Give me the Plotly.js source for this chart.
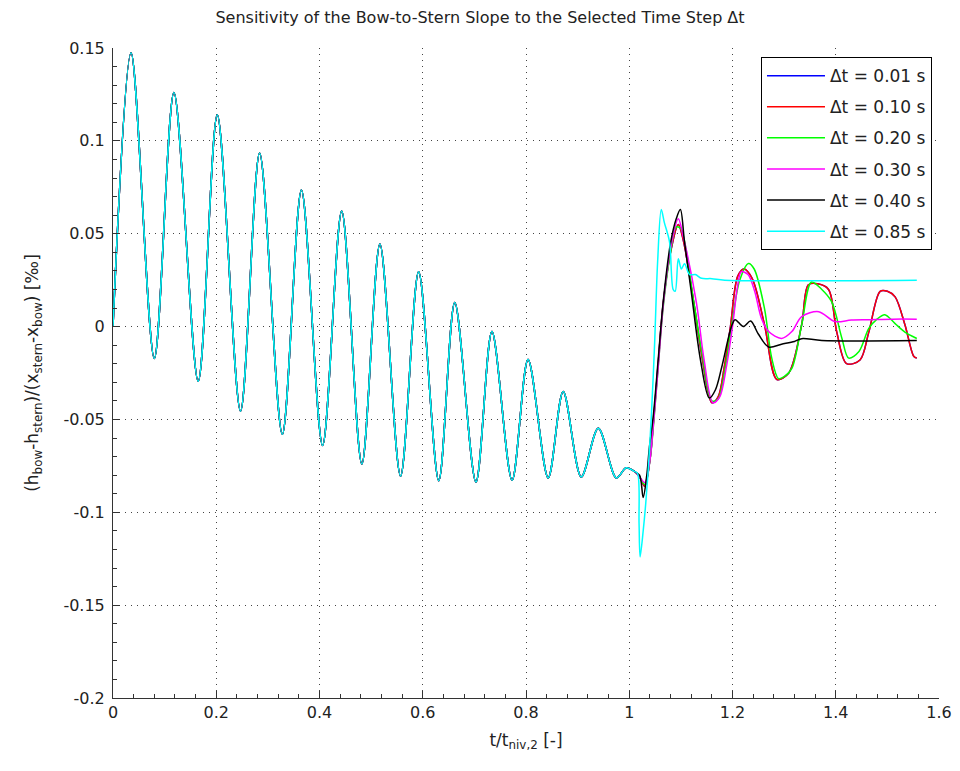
<!DOCTYPE html>
<html>
<head>
<meta charset="utf-8">
<script src="https://cdn.plot.ly/plotly-3.0.1.min.js"></script>
<style>html,body{margin:0;padding:0;background:#fff;}#chart{width:960px;height:771px;}</style>
</head>
<body>
<div id="chart"></div>
<script>
// Shared oscillation before the jump (all time steps coincide)
const tBase = [0, 0.035, 0.080, 0.118, 0.165, 0.202, 0.247, 0.284, 0.328, 0.365, 0.406, 0.443, 0.482, 0.517, 0.557, 0.592, 0.631, 0.662, 0.703, 0.734, 0.773, 0.804, 0.843, 0.872, 0.907, 0.940, 0.975, 0.994, 1.010];
const yBase = [0, 0.1475, -0.0172, 0.126, -0.0295, 0.114, -0.0456, 0.0935, -0.058, 0.0735, -0.064, 0.0622, -0.074, 0.0445, -0.0805, 0.0295, -0.083, 0.013, -0.0837, -0.0027, -0.0827, -0.0177, -0.0815, -0.0349, -0.081, -0.0547, -0.0815, -0.076, -0.078];

// Series-specific parts after t/t_niv,2 = 1
const t001 = [1.020, 1.030, 1.040, 1.047, 1.056, 1.066, 1.080, 1.095, 1.105, 1.125, 1.142, 1.160, 1.172, 1.184, 1.196, 1.210, 1.222, 1.238, 1.262, 1.286, 1.309, 1.334, 1.347, 1.365, 1.386, 1.402, 1.421, 1.447, 1.464, 1.486, 1.500, 1.515, 1.534, 1.551, 1.557];
const y001 = [-0.081, -0.086, -0.072, -0.051, -0.020, 0.013, 0.040, 0.055, 0.046, 0.013, -0.018, -0.041, -0.038, -0.022, 0.0, 0.027, 0.031, 0.026, 0.001, -0.0285, -0.025, 0.001, 0.0225, 0.023, 0.020, -0.003, -0.020, -0.018, -0.003, 0.019, 0.019, 0.016, 0.001, -0.016, -0.017];

const t010 = [1.020, 1.030, 1.040, 1.047, 1.056, 1.066, 1.080, 1.095, 1.105, 1.125, 1.142, 1.160, 1.172, 1.184, 1.196, 1.210, 1.222, 1.238, 1.262, 1.286, 1.309, 1.334, 1.347, 1.365, 1.386, 1.402, 1.421, 1.447, 1.464, 1.486, 1.500, 1.515, 1.534, 1.551, 1.557];
const y010 = [-0.081, -0.086, -0.072, -0.051, -0.020, 0.013, 0.040, 0.055, 0.046, 0.013, -0.018, -0.041, -0.038, -0.022, 0.0, 0.027, 0.031, 0.026, 0.001, -0.0285, -0.025, 0.001, 0.0225, 0.023, 0.020, -0.003, -0.020, -0.018, -0.003, 0.019, 0.019, 0.016, 0.001, -0.016, -0.017];

const t020 = [1.020, 1.030, 1.040, 1.047, 1.056, 1.066, 1.080, 1.091, 1.100, 1.125, 1.142, 1.160, 1.172, 1.186, 1.198, 1.214, 1.231, 1.242, 1.262, 1.276, 1.289, 1.300, 1.315, 1.334, 1.353, 1.373, 1.392, 1.412, 1.425, 1.445, 1.464, 1.480, 1.495, 1.515, 1.534, 1.557];
const y020 = [-0.081, -0.085, -0.072, -0.053, -0.022, 0.011, 0.040, 0.0536, 0.0526, 0.013, -0.016, -0.040, -0.039, -0.022, 0.0, 0.025, 0.034, 0.031, 0.0097, -0.017, -0.028, -0.027, -0.0225, 0.001, 0.024, 0.020, 0.0134, -0.0064, -0.017, -0.0134, -0.001, 0.004, 0.0064, 0.0016, -0.003, -0.0064];

const t030 = [1.020, 1.030, 1.040, 1.047, 1.056, 1.066, 1.080, 1.095, 1.105, 1.130, 1.145, 1.162, 1.175, 1.188, 1.200, 1.210, 1.217, 1.230, 1.243, 1.256, 1.270, 1.295, 1.315, 1.334, 1.367, 1.398, 1.430, 1.464, 1.510, 1.557];
const y030 = [-0.081, -0.084, -0.072, -0.052, -0.022, 0.012, 0.042, 0.058, 0.048, 0.013, -0.018, -0.041, -0.038, -0.022, 0.0, 0.022, 0.0295, 0.028, 0.019, 0.0045, -0.0027, -0.0064, -0.0027, 0.0054, 0.008, 0.0027, 0.0035, 0.0037, 0.004, 0.004];

const t040 = [1.020, 1.027, 1.034, 1.039, 1.047, 1.056, 1.066, 1.080, 1.091, 1.099, 1.107, 1.120, 1.138, 1.155, 1.167, 1.179, 1.198, 1.205, 1.221, 1.235, 1.250, 1.270, 1.295, 1.320, 1.334, 1.373, 1.557];
const y040 = [-0.080, -0.092, -0.080, -0.065, -0.047, -0.018, 0.014, 0.045, 0.058, 0.063, 0.0456, 0.019, -0.018, -0.0385, -0.034, -0.022, 0.0, 0.0037, 0.0, 0.003, -0.004, -0.011, -0.0095, -0.008, -0.0065, -0.0075, -0.0075];

const t085 = [1.016, 1.019, 1.021, 1.027, 1.032, 1.037, 1.043, 1.049, 1.055, 1.062, 1.068, 1.078, 1.085, 1.089, 1.095, 1.101, 1.107, 1.117, 1.128, 1.140, 1.160, 1.185, 1.557];
const y085 = [-0.079, -0.106, -0.124, -0.110, -0.095, -0.076, -0.047, -0.010, 0.035, 0.063, 0.056, 0.0456, 0.020, 0.019, 0.0365, 0.031, 0.0338, 0.028, 0.028, 0.026, 0.0258, 0.025, 0.025];

const seriesNames = ['\u0394t = 0.01 s', '\u0394t = 0.10 s', '\u0394t = 0.20 s', '\u0394t = 0.30 s', '\u0394t = 0.40 s', '\u0394t = 0.85 s'];
const seriesColors = ['#0000ff', '#ff0000', '#00ff00', '#ff00ff', '#000000', '#00ffff'];
const seriesT = [t001, t010, t020, t030, t040, t085];
const seriesY = [y001, y010, y020, y030, y040, y085];

const xTickVals = [0, 0.2, 0.4, 0.6, 0.8, 1, 1.2, 1.4, 1.6];
const xTickText = ['0', '0.2', '0.4', '0.6', '0.8', '1', '1.2', '1.4', '1.6'];
const yTickVals = [0.15, 0.1, 0.05, 0, -0.05, -0.1, -0.15, -0.2];
const yTickText = ['0.15', '0.1', '0.05', '0', '-0.05', '-0.1', '-0.15', '-0.2'];

const FONT = 'DejaVu Sans, Verdana, sans-serif';

const traces = seriesNames.map((name, i) => ({
  type: 'scatter',
  mode: 'lines',
  name: name,
  legendgroup: 'g' + i,
  x: tBase.concat(seriesT[i]),
  y: yBase.concat(seriesY[i]),
  line: {color: seriesColors[i], width: 1.5, shape: 'spline', smoothing: 0.9}
}));

const axisCommon = {
  showline: true, linecolor: '#333', linewidth: 1,
  ticks: 'inside', ticklen: 7, tickcolor: '#333', tickwidth: 1,
  showgrid: true, gridcolor: '#444', gridwidth: 1, griddash: '1px,5px',
  zeroline: false, mirror: false,
  tickfont: {family: FONT, size: 16, color: '#222'}
};

const layout = {
  width: 960, height: 771,
  margin: {l: 113, r: 21, t: 48, b: 73},
  paper_bgcolor: '#fff', plot_bgcolor: '#fff',
  font: {family: FONT, color: '#222'},
  title: {text: 'Sensitivity of the Bow-to-Stern Slope to the Selected Time Step \u0394t',
          font: {family: FONT, size: 16, color: '#222'}, x: 0.5, xref: 'container', y: 0.977, yref: 'container', yanchor: 'middle'},
  xaxis: Object.assign({}, axisCommon, {
    range: [0, 1.6], tickvals: xTickVals, ticktext: xTickText,
    minor: {dtick: 0.04, ticks: 'inside', ticklen: 4, tickcolor: '#333', showgrid: false},
    title: {text: 't/t<sub>niv,2</sub> [-]', font: {family: FONT, size: 17, color: '#222'}, standoff: 12}
  }),
  yaxis: Object.assign({}, axisCommon, {
    range: [-0.2, 0.15], tickvals: yTickVals, ticktext: yTickText,
    minor: {dtick: 0.01, ticks: 'inside', ticklen: 4, tickcolor: '#333', showgrid: false},
    ticklabelstandoff: 4,
    title: {text: '(h<sub>bow</sub>-h<sub>stern</sub>)/(x<sub>stern</sub>-x<sub>bow</sub>) [\u2030]', font: {family: FONT, size: 17, color: '#222'}, standoff: 20}
  }),
  showlegend: true,
  legend: {x: 0.9915, xanchor: 'right', y: 0.986, yanchor: 'top',
           bgcolor: '#fff', bordercolor: '#000', borderwidth: 1, itemwidth: 58,
           font: {family: FONT, size: 17, color: '#222'}, tracegroupgap: 6, traceorder: 'grouped'}
};

Plotly.newPlot('chart', traces, layout, {staticPlot: true, displayModeBar: false});
</script>
</body>
</html>
